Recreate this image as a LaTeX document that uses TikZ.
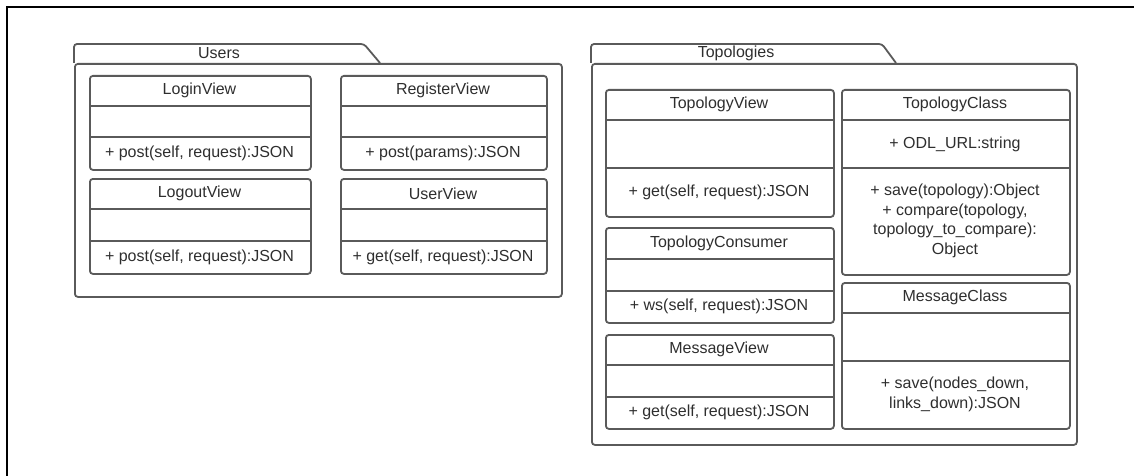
\documentclass[tikz,border=0pt]{standalone}
\usepackage{fontspec}
\setmainfont{Liberation Sans}
\definecolor{umlline}{HTML}{5A5A5A}
\definecolor{umltext}{HTML}{2E2E2E}
\tikzset{
  frameline/.style={draw=black, line width=2.8pt},
  pkgline/.style={draw=umlline, line width=1.8pt, rounded corners=3pt},
  classbox/.style={draw=umlline, line width=1.8pt, rounded corners=3pt, inner sep=0pt, anchor=north west},
  sepline/.style={draw=umlline, line width=1.8pt},
  umllabel/.style={text=umltext, inner sep=0pt, align=center, font=\fontsize{16}{19.5}\selectfont},
}
% #1 name, #2 left, #3 right, #4 top, #5 first separator, #6 second separator,
% #7 bottom, #8 class name, #9 operations
\newcommand{\umlclass}[9]{%
  \node[classbox, minimum width={(#3-#2)*1pt}, minimum height={(#7-#4)*1pt}] (#1) at (#2,#4) {};
  \draw[sepline] (#2,#5) -- (#3,#5);
  \draw[sepline] (#2,#6) -- (#3,#6);
  \node[umllabel] (#1-name) at ({(#2+#3)/2},{(#4+#5)/2}) {#8};
  \node[umllabel] (#1-ops) at ({(#2+#3)/2},{(#6+#7)/2}) {#9};
}
\begin{document}
\begin{tikzpicture}[x=1pt, y=-1pt]
\useasboundingbox (0,0) rectangle (1134,476);
% page frame (left and top edges)
\draw[frameline] (7,476) -- (7,7) -- (1134,7);

% package Users
\coordinate (users-tab-a) at (74,63);
\coordinate (users-tab-b) at (74,44);
\coordinate (users-tab-c) at (364,44);
\coordinate (users-tab-d) at (380,63);
\draw[pkgline] (users-tab-a) -- (users-tab-b) -- (users-tab-c) -- (users-tab-d);
\node[classbox, minimum width=487pt, minimum height=233pt] (users) at (74,63) {};
\node[umllabel] (users-label) at (219,53) {Users};

\umlclass{login}{89}{310}{75}{106}{137}{169}{LoginView}{+ post(self, request):JSON}
\umlclass{register}{340}{546}{75}{106}{137}{169}{RegisterView}{+ post(params):JSON}
\umlclass{logout}{89}{310}{178}{209}{241}{273}{LogoutView}{+ post(self, request):JSON}
\umlclass{userview}{340}{546}{178}{209}{241}{273}{UserView}{+ get(self, request):JSON}

% package Topologies
\coordinate (topo-tab-a) at (591,63);
\coordinate (topo-tab-b) at (591,44);
\coordinate (topo-tab-c) at (882,44);
\coordinate (topo-tab-d) at (896,63);
\draw[pkgline] (topo-tab-a) -- (topo-tab-b) -- (topo-tab-c) -- (topo-tab-d);
\node[classbox, minimum width=485pt, minimum height=381pt] (topologies) at (591,63) {};
\node[umllabel] (topologies-label) at (736,53) {Topologies};

\umlclass{topoview}{605}{833}{89}{120}{168}{216}{TopologyView}{+ get(self, request):JSON}
\umlclass{consumer}{605}{833}{227}{259}{291}{322}{TopologyConsumer}{+ ws(self, request):JSON}
\umlclass{msgview}{605}{833}{334}{365}{397}{428}{MessageView}{+ get(self, request):JSON}
\umlclass{topoclass}{841}{1069}{89}{120}{168}{274}{TopologyClass}{+ save(topology):Object\\+ compare(topology,\\topology\_to\_compare):\\Object}
\node[umllabel] (topoclass-attr) at (955,144) {+ ODL\_URL:string};
\umlclass{msgclass}{841}{1069}{282}{313}{361}{428}{MessageClass}{+ save(nodes\_down,\\links\_down):JSON}
\end{tikzpicture}
\end{document}
